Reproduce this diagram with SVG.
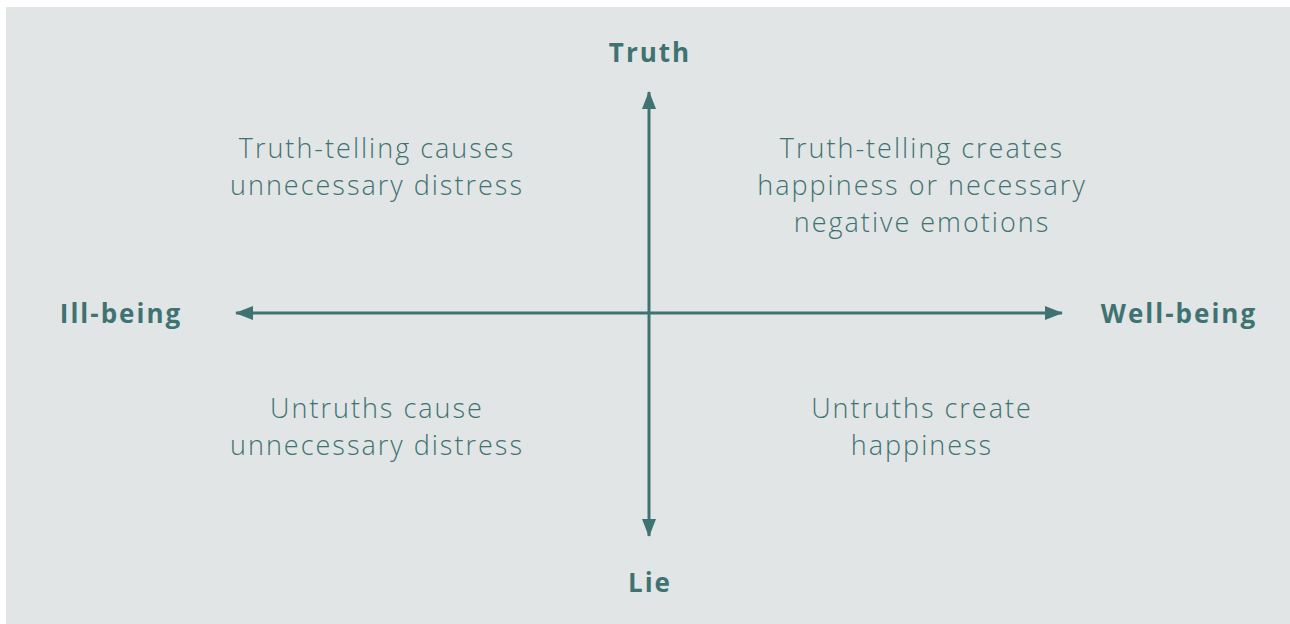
<svg xmlns="http://www.w3.org/2000/svg" width="1290" height="624" viewBox="0 0 1290 624">
<style>
.q{font-family:"Open Sans",Lato,sans-serif;font-weight:300;font-size:27px;letter-spacing:2px;fill:#3f7372;text-anchor:middle}
.ax{font-family:"Open Sans",Lato,sans-serif;font-weight:700;font-size:26px;letter-spacing:2px;fill:#3f7372;text-anchor:middle}
.ln{stroke:#3f7372;stroke-width:3;fill:none}
</style>
<defs>
<marker id="ah" viewBox="0 0 18 14" refX="17" refY="7" markerWidth="18" markerHeight="14" markerUnits="userSpaceOnUse" orient="auto">
<path d="M0,0 L18,7 L0,14 Z" fill="#3f7372"/>
</marker>
</defs>
<rect x="6" y="7" width="1284" height="617" fill="#e1e5e5"/>
<g id="connectors">
<line class="ln" x1="649" y1="313" x2="649" y2="92" marker-end="url(#ah)"/>
<line class="ln" x1="649" y1="313" x2="649" y2="536" marker-end="url(#ah)"/>
<line class="ln" x1="649" y1="313" x2="236" y2="313" marker-end="url(#ah)"/>
<line class="ln" x1="649" y1="313" x2="1062" y2="313" marker-end="url(#ah)"/>
</g>
<g id="truth"><text class="ax" x="650" y="62">Truth</text></g>
<g id="lie"><text class="ax" x="650" y="592">Lie</text></g>
<g id="ill-being"><text class="ax" x="121" y="323">Ill-being</text></g>
<g id="well-being"><text class="ax" x="1179" y="323">Well-being</text></g>
<g id="q-top-left"><text class="q" x="377" y="158">Truth-telling causes</text><text class="q" x="377" y="195">unnecessary distress</text></g>
<g id="q-top-right"><text class="q" x="922" y="158">Truth-telling creates</text><text class="q" x="922" y="195">happiness or necessary</text><text class="q" x="922" y="232">negative emotions</text></g>
<g id="q-bottom-left"><text class="q" x="377" y="418">Untruths cause</text><text class="q" x="377" y="455">unnecessary distress</text></g>
<g id="q-bottom-right"><text class="q" x="922" y="418">Untruths create</text><text class="q" x="922" y="455">happiness</text></g>
</svg>
